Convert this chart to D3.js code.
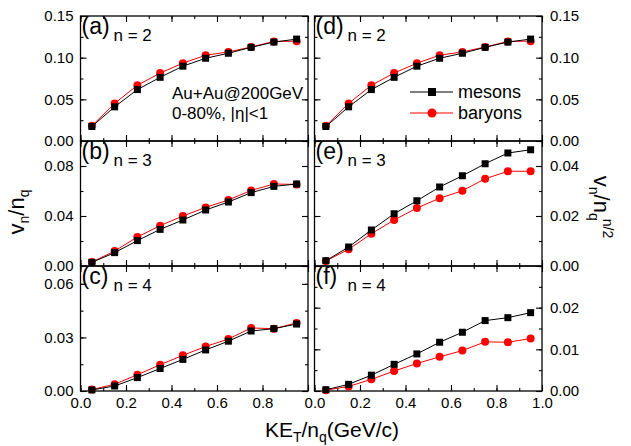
<!DOCTYPE html>
<html><head><meta charset="utf-8">
<script src="https://cdn.jsdelivr.net/npm/d3@7"></script>
<style>body{margin:0;background:#fff}svg{display:block}text{font-family:"Liberation Sans",Arial,sans-serif;fill:#000}</style>
</head><body><svg id="c" width="631" height="446"></svg>
<script>
const xValues = [0.05,0.15,0.25,0.35,0.45,0.55,0.65,0.75,0.85,0.95];
const xTicksLeft = [0,0.2,0.4,0.6,0.8];
const xTicksRight = [0,0.2,0.4,0.6,0.8,1.0];
// v_n / n_q
const mesonsN2 = [0.0174,0.041,0.0617,0.0764,0.0898,0.0993,0.1053,0.1124,0.1187,0.1223];
const baryonsN2 = [0.0182,0.0451,0.0669,0.0815,0.0934,0.1029,0.1069,0.1128,0.1195,0.1198];
const mesonsN3 = [0.0029,0.0107,0.0203,0.0293,0.0368,0.0448,0.0512,0.0587,0.0637,0.0656];
const baryonsN3 = [0.0032,0.012,0.0232,0.0323,0.040,0.0469,0.0528,0.0605,0.0656,0.0653];
const mesonsN4 = [0.0006,0.0028,0.0075,0.0126,0.0177,0.023,0.0279,0.0336,0.0349,0.0375];
const baryonsN4 = [0.0008,0.0038,0.0091,0.0147,0.020,0.0249,0.0291,0.0353,0.0349,0.0381];
// v_n / n_q^{n/2}
const mesonsN2s = [0.0174,0.041,0.0617,0.0764,0.0898,0.0993,0.1053,0.1124,0.1187,0.1223];
const baryonsN2s = [0.0182,0.0451,0.0669,0.0815,0.0934,0.1029,0.1069,0.1128,0.1195,0.1198];
const mesonsN3s = [0.0021,0.0076,0.0144,0.0209,0.0261,0.0316,0.0361,0.0409,0.0452,0.0465];
const baryonsN3s = [0.002,0.0067,0.0129,0.0184,0.0232,0.0271,0.0301,0.0349,0.0379,0.0379];
const mesonsN4s = [0.0003,0.0016,0.0038,0.0064,0.0089,0.0117,0.0141,0.0169,0.0176,0.0188];
const baryonsN4s = [0.0002,0.0011,0.0028,0.0048,0.0066,0.0082,0.0097,0.0118,0.0117,0.0126];

const panelLabels = ["(a)","(b)","(c)","(d)","(e)","(f)"];
const orderLabels = ["n = 2","n = 3","n = 4","n = 2","n = 3","n = 4"];
const yMaxes = [0.15,0.10,0.07,0.15,0.05,0.03];
const yMajor = [[0,0.05,0.10,0.15],[0,0.04,0.08],[0,0.03,0.06],[0,0.05,0.10,0.15],[0,0.02,0.04],[0,0.01,0.02]];
const yMinorStep = [0.025,0.02,0.015,0.025,0.01,0.005];
const seriesNames = ["mesons","baryons"];

const svg = d3.select("#c");
const colL = [80.5,308], colR = [314.5,542];
const rows = [[16,141],[141,266],[266,391]];
const mesonSets = [mesonsN2,mesonsN3,mesonsN4,mesonsN2s,mesonsN3s,mesonsN4s];
const baryonSets = [baryonsN2,baryonsN3,baryonsN4,baryonsN2s,baryonsN3s,baryonsN4s];

function minorTicks(max, step){const a=[];for(let v=0;v<=max+1e-9;v+=step)a.push(+v.toFixed(4));return a;}

for(let i=0;i<6;i++){
  const right = i>=3, r = i%3;
  const [x0,x1] = right?colR:colL;
  const [y0,y1] = rows[r];
  const x = d3.scaleLinear().domain([0,1]).range([x0,x1]);
  const y = d3.scaleLinear().domain([0,yMaxes[i]]).range([y1,y0]);
  const g = svg.append("g");
  const style = sel=>{sel.select(".domain").remove();sel.selectAll("line").attr("stroke","#000").attr("stroke-width",1.1);sel.selectAll("text").attr("font-size",15).attr("font-family","Liberation Sans, Arial, sans-serif");};
  const xMin = d3.range(0,1.0001,0.1);
  // x axes
  const xt = right?xTicksRight:xTicksLeft;
  g.append("g").attr("transform",`translate(0,${y1})`).call(d3.axisBottom(x).tickValues(xMin).tickSize(-3).tickFormat("")).call(style);
  g.append("g").attr("transform",`translate(0,${y1})`).call(d3.axisBottom(x).tickValues([0,0.2,0.4,0.6,0.8,1.0]).tickSize(-6).tickFormat("")).call(style);
  g.append("g").attr("transform",`translate(0,${y0})`).call(d3.axisTop(x).tickValues(xMin).tickSize(-3).tickFormat("")).call(style);
  g.append("g").attr("transform",`translate(0,${y0})`).call(d3.axisTop(x).tickValues([0,0.2,0.4,0.6,0.8,1.0]).tickSize(-6).tickFormat("")).call(style);
  if(r===2){
    g.append("g").attr("transform",`translate(0,${y1})`).call(d3.axisBottom(x).tickValues(xt).tickSize(0).tickPadding(6).tickFormat(d3.format(".1f"))).call(style);
  }
  // y axes
  const mn = minorTicks(yMaxes[i],yMinorStep[i]);
  g.append("g").attr("transform",`translate(${x0},0)`).call(d3.axisLeft(y).tickValues(mn).tickSize(-3).tickFormat("")).call(style);
  g.append("g").attr("transform",`translate(${x1},0)`).call(d3.axisRight(y).tickValues(mn).tickSize(-3).tickFormat("")).call(style);
  g.append("g").attr("transform",`translate(${x0},0)`).call(d3.axisLeft(y).tickValues(yMajor[i]).tickSize(-6).tickFormat("")).call(style);
  g.append("g").attr("transform",`translate(${x1},0)`).call(d3.axisRight(y).tickValues(yMajor[i]).tickSize(-6).tickFormat("")).call(style);
  if(right){
    g.append("g").attr("transform",`translate(${x1},0)`).call(d3.axisRight(y).tickValues(yMajor[i]).tickSize(0).tickPadding(8).tickFormat(d3.format(".2f"))).call(style);
  } else {
    g.append("g").attr("transform",`translate(${x0},0)`).call(d3.axisLeft(y).tickValues(yMajor[i]).tickSize(0).tickPadding(7).tickFormat(d3.format(".2f"))).call(style);
  }
  // frame
  g.append("rect").attr("x",x0).attr("y",y0).attr("width",x1-x0).attr("height",y1-y0).attr("fill","none").attr("stroke","#000").attr("stroke-width",1.3);
  // data
  const line = d3.line().x((d,k)=>x(xValues[k])).y(d=>y(d));
  g.append("path").datum(baryonSets[i]).attr("d",line).attr("fill","none").attr("stroke","#ff0000").attr("stroke-width",1);
  g.selectAll("circle.b").data(baryonSets[i]).join("circle").attr("cx",(d,k)=>x(xValues[k])).attr("cy",d=>y(d)).attr("r",4).attr("fill","#ff0000");
  g.append("path").datum(mesonSets[i]).attr("d",line).attr("fill","none").attr("stroke","#000").attr("stroke-width",1);
  g.selectAll("rect.m").data(mesonSets[i]).join("rect").attr("x",(d,k)=>x(xValues[k])-3.5).attr("y",d=>y(d)-3.5).attr("width",7).attr("height",7).attr("fill","#000");
  // labels
  g.append("text").attr("x",x0+1).attr("y",y0+18).attr("font-size",23).text(panelLabels[i]);
  const nx = right? x0+33 : x0+33;
  g.append("text").attr("x",nx).attr("y",y0+25).attr("font-size",17).text(orderLabels[i]);
  if(i===0){
    g.append("text").attr("x",172).attr("y",99).attr("font-size",17).text("Au+Au@200GeV");
    g.append("text").attr("x",172).attr("y",119).attr("font-size",17).text("0-80%, |η|<1");
  }
  if(i===3){
    const lx0=410,lx1=453;
    const ly=[92,113];
    svg.append("line").attr("x1",lx0).attr("x2",lx1).attr("y1",ly[0]).attr("y2",ly[0]).attr("stroke","#000");
    svg.append("rect").attr("x",432-4).attr("y",ly[0]-4).attr("width",8).attr("height",8).attr("fill","#000");
    svg.append("line").attr("x1",lx0).attr("x2",lx1).attr("y1",ly[1]).attr("y2",ly[1]).attr("stroke","#ff0000");
    svg.append("circle").attr("cx",432).attr("cy",ly[1]).attr("r",4.5).attr("fill","#ff0000");
    svg.append("text").attr("x",458).attr("y",ly[0]+6).attr("font-size",18).text(seriesNames[0]);
    svg.append("text").attr("x",458).attr("y",ly[1]+6).attr("font-size",18).text(seriesNames[1]);
  }
}
// axis titles
const xt = svg.append("text").attr("x",332).attr("y",437).attr("text-anchor","middle").attr("font-size",21);
xt.append("tspan").text("KE");
xt.append("tspan").attr("font-size",14).attr("dy",5).text("T");
xt.append("tspan").attr("dy",-5).text("/n");
xt.append("tspan").attr("font-size",14).attr("dy",5).text("q");
xt.append("tspan").attr("dy",-5).text("(GeV/c)");

const yl = svg.append("text").attr("transform","translate(24,212) rotate(-90)").attr("text-anchor","middle").attr("font-size",22);
yl.append("tspan").text("v");
yl.append("tspan").attr("font-size",14).attr("dy",5).text("n");
yl.append("tspan").attr("dy",-5).text("/n");
yl.append("tspan").attr("font-size",14).attr("dy",5).text("q");

const yr = svg.append("text").attr("transform","translate(594,207) rotate(90)").attr("text-anchor","middle").attr("font-size",22);
yr.append("tspan").text("v");
yr.append("tspan").attr("font-size",14).attr("dy",5).text("n");
yr.append("tspan").attr("dy",-5).text("/n");
yr.append("tspan").attr("font-size",14).attr("dy",5).text("q");
yr.append("tspan").attr("font-size",14).attr("dy",-14).attr("dx",-2).text("n/2");
</script></body></html>
